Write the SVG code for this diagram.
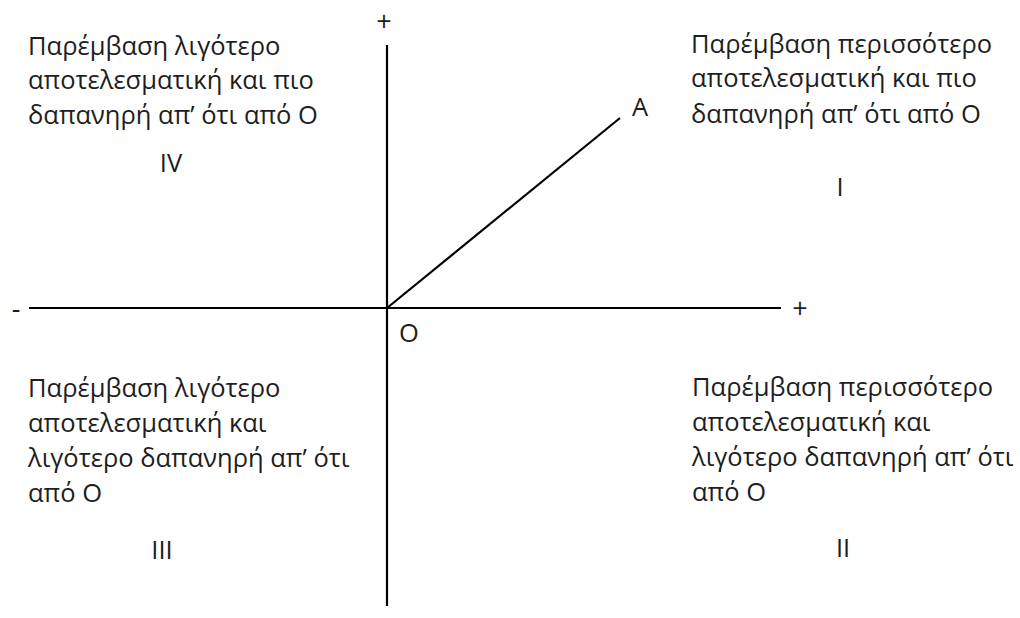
<svg xmlns="http://www.w3.org/2000/svg" width="1020" height="618" viewBox="0 0 1020 618">
<style>
text { font-family: "Open Sans", "Noto Sans", "Liberation Sans", sans-serif; font-size: 25.5px; fill: #1e1e1e; }
.sign { font-size: 27px; }
.ax { stroke: #000; stroke-width: 2.2; fill: none; }
</style>
<rect width="1020" height="618" fill="#fff"/>
<g id="connectors">
  <line class="ax" x1="387" y1="45" x2="387" y2="606"/>
  <line class="ax" x1="29" y1="308" x2="781" y2="308"/>
  <line class="ax" x1="387" y1="308" x2="620" y2="118"/>
</g>
<g id="axis-labels">
  <text class="sign" x="384" y="31" text-anchor="middle">+</text>
  <text class="sign" x="800" y="318" text-anchor="middle">+</text>
  <text class="sign" x="16" y="318" text-anchor="middle">-</text>
  <text x="409" y="342" text-anchor="middle">O</text>
  <text x="640" y="116" text-anchor="middle">A</text>
</g>
<g id="quadrant-IV">
  <text x="28" y="55">Παρέμβαση λιγότερο</text>
  <text x="28" y="89">αποτελεσματική και πιο</text>
  <text x="28" y="124">δαπανηρή απ’ ότι από Ο</text>
  <text x="171" y="172" text-anchor="middle">IV</text>
</g>
<g id="quadrant-I">
  <text x="691" y="53">Παρέμβαση περισσότερο</text>
  <text x="691" y="87">αποτελεσματική και πιο</text>
  <text x="691" y="123">δαπανηρή απ’ ότι από Ο</text>
  <text x="840" y="196" text-anchor="middle">I</text>
</g>
<g id="quadrant-III">
  <text x="28" y="397">Παρέμβαση λιγότερο</text>
  <text x="28" y="432">αποτελεσματική και</text>
  <text x="28" y="467">λιγότερο δαπανηρή απ’ ότι</text>
  <text x="28" y="502">από Ο</text>
  <text x="162" y="559" text-anchor="middle">III</text>
</g>
<g id="quadrant-II">
  <text x="692" y="396">Παρέμβαση περισσότερο</text>
  <text x="692" y="431">αποτελεσματική και</text>
  <text x="692" y="466">λιγότερο δαπανηρή απ’ ότι</text>
  <text x="692" y="501">από Ο</text>
  <text x="843" y="557" text-anchor="middle">II</text>
</g>
</svg>
